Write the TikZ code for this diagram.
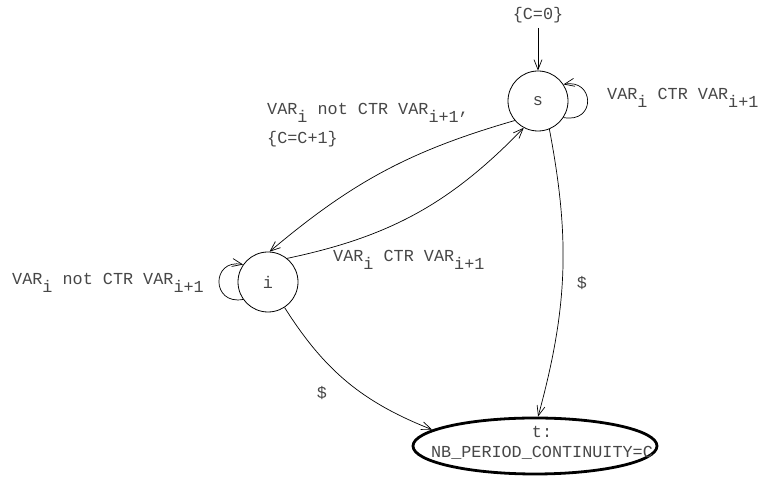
\documentclass[tikz,border=0pt]{standalone}
\usepackage{fontspec}
\setmonofont{Liberation Mono}
\usetikzlibrary{arrows.meta,shapes.geometric}
\newcommand{\sbx}[1]{\raisebox{-8pt}{#1}}
\tikzset{
  txt/.style={font=\ttfamily\fontsize{16.8}{20}\selectfont, text=black!72, inner sep=0pt},
  state/.style={circle, draw, line width=0.8pt, minimum size=60pt, inner sep=0pt, font=\ttfamily\fontsize{16.8}{20}\selectfont, text=black!72},
  final/.style={ellipse, draw, line width=2.8pt, minimum width=244pt, minimum height=56pt, inner sep=0pt},
  edge/.style={draw, line width=0.7pt, -{Straight Barb[length=10pt,width=8pt]}}
}
\begin{document}
\begin{tikzpicture}[x=1pt,y=1pt]
\useasboundingbox (0,0) rectangle (764,478);
\node[state] (s) at (538,377) {s};
\node[state] (i) at (268,196) {i};
\node[final] (t) at (535,32) {};
\node[txt, align=center] (tl) at (542,35) {t:\\NB\_PERIOD\_CONTINUITY=C};
\node[txt] (c0) at (538,463) {\{C=0\}};
\coordinate (c0b) at (538,450);
\draw[edge] (c0b) -- (s.north);
% self loops
\draw[edge] (s.-33) .. controls +(33,-6) and +(31,6) .. (s.33);
\draw[edge] (i.215) .. controls +(-32,-6) and +(-32,6) .. (i.145);
% edges
\draw[edge] (s.220) to[bend right=12] (i.87);
\draw[edge] (i.51) to[bend right=17] (s.242);
\draw[edge] (s.292) to[bend left=13] (t.84);
\draw[edge] (i.303) to[bend right=18] (t.171);
% labels
\node[txt, anchor=base west] (ls) at (607,378) {VAR\sbx{i} CTR VAR\sbx{i+1}};
\node[txt, anchor=base west] (lu) at (267,363) {VAR\sbx{i} not CTR VAR\sbx{i+1},};
\node[txt, anchor=base west] (lc) at (267,334) {\{C=C+1\}};
\node[txt, anchor=base west] (ll) at (333,216) {VAR\sbx{i} CTR VAR\sbx{i+1}};
\node[txt, anchor=base west] (li) at (12,193) {VAR\sbx{i} not CTR VAR\sbx{i+1}};
\node[txt] (d1) at (582,195) {\$};
\node[txt] (d2) at (322,85) {\$};
\end{tikzpicture}
\end{document}
